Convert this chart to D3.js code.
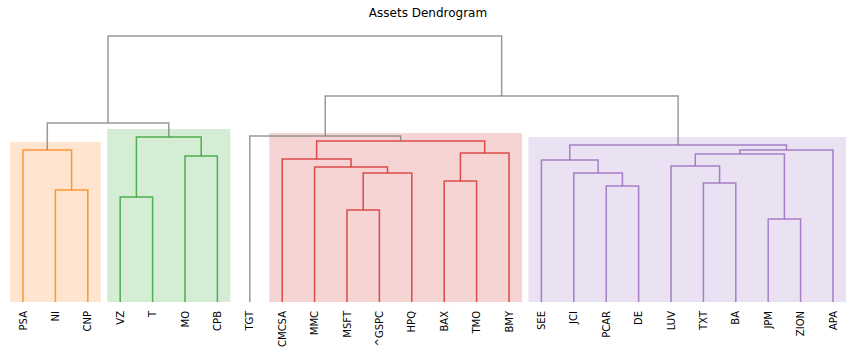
<!DOCTYPE html>
<html>
<head>
<meta charset="utf-8">
<script src="https://cdn.jsdelivr.net/npm/d3@7"></script>
<style>
  body { margin: 0; background: #fff; }
  text { font-family: "DejaVu Sans", sans-serif; fill: #000; }
</style>
</head>
<body>
<div id="chart"></div>
<script>
// leaves in dendrogram order
const leaves = ["PSA", "NI", "CNP", "VZ", "T", "MO", "CPB", "TGT", "CMCSA", "MMC",
                "MSFT", "^GSPC", "HPQ", "BAX", "TMO", "BMY", "SEE", "JCI", "PCAR", "DE",
                "LUV", "TXT", "BA", "JPM", "ZION", "APA"];

// cluster of each leaf (-1 = no cluster)
const leafGroup = [0, 0, 0, 1, 1, 1, 1, -1, 2, 2,
                   2, 2, 2, 2, 2, 2, 3, 3, 3, 3,
                   3, 3, 3, 3, 3, 3];
const groupColors = ["#ff7f0e", "#2ca02c", "#d62728", "#9467bd"];
const aboveColor = "#7f7f7f";

// linkage (scipy style): ids < 26 are leaves, id 26+i is merge i
const linkLeft   = [23, 10, 3, 1, 18, 21, 13, 27, 17, 9, 20, 16, 8, 5, 36, 32, 0, 40, 37, 38, 28, 7, 42, 47, 48];
const linkRight  = [24, 11, 4, 2, 19, 22, 14, 12, 30, 33, 31, 34, 35, 6, 26, 15, 29, 25, 43, 41, 39, 45, 46, 44, 49];
const linkHeight = [0.415, 0.46, 0.525, 0.56, 0.58, 0.595, 0.605, 0.645, 0.645, 0.675,
                    0.68, 0.71, 0.715, 0.73, 0.74, 0.745, 0.76, 0.76, 0.785, 0.805,
                    0.825, 0.83, 0.895, 1.03, 1.33];

let width = 856, height = 352;

let svg = d3.select("#chart")
    .append("svg")
    .attr("width", width)
    .attr("height", height);

let x = d3.scalePoint()
    .domain(leaves)
    .range([23, 833]);

let y = d3.scaleLinear()
    .domain([0, 1.33])
    .range([302, 36]);

let n = leaves.length;
// position, height and leaf set for every node
let nodes = leaves.map(function(d, i) {
    return {x: x(d), h: 0, members: [i]};
});
let links = [];
linkLeft.forEach(function(l, i) {
    let a = nodes[l], b = nodes[linkRight[i]];
    let members = a.members.concat(b.members);
    let groups = Array.from(new Set(members.map(function(m) { return leafGroup[m]; })));
    let color = (groups.length == 1 && groups[0] >= 0) ? groupColors[groups[0]] : aboveColor;
    nodes.push({x: (a.x + b.x) / 2, h: linkHeight[i], members: members});
    links.push({a: a, b: b, h: linkHeight[i], color: color, groups: groups});
});

// shaded boxes behind each cluster
let pad = x.step() * 0.4;
groupColors.forEach(function(c, g) {
    let idx = leafGroup.map(function(v, i) { return v == g ? i : -1; }).filter(function(i) { return i >= 0; });
    let top = d3.max(links.filter(function(l) { return l.groups.length == 1 && l.groups[0] == g; }),
                     function(l) { return l.h; });
    let x0 = x(leaves[idx[0]]) - pad, x1 = x(leaves[idx[idx.length - 1]]) + pad;
    svg.append("rect")
        .attr("x", x0)
        .attr("y", y(top + 0.04))
        .attr("width", x1 - x0)
        .attr("height", y(0) - y(top + 0.04))
        .attr("fill", c)
        .attr("fill-opacity", 0.2);
});

// links
svg.selectAll("path.link")
    .data(links)
    .enter()
    .append("path")
    .attr("class", "link")
    .attr("d", function(d) {
        return "M" + d.a.x + "," + y(d.a.h) + "V" + y(d.h) + "H" + d.b.x + "V" + y(d.b.h);
    })
    .attr("fill", "none")
    .attr("stroke", function(d) { return d.color; })
    .attr("stroke-opacity", 0.8)
    .attr("stroke-width", 1.5);

// leaf labels
svg.selectAll("text.leaf")
    .data(leaves)
    .enter()
    .append("text")
    .attr("class", "leaf")
    .attr("transform", function(d) { return "translate(" + x(d) + ",311)rotate(-90)"; })
    .attr("dy", "0.35em")
    .attr("text-anchor", "end")
    .attr("font-size", "10px")
    .text(function(d) { return d; });

// title
svg.append("text")
    .attr("x", 428)
    .attr("y", 17)
    .attr("text-anchor", "middle")
    .attr("font-size", "12px")
    .text("Assets Dendrogram");
</script>
</body>
</html>
